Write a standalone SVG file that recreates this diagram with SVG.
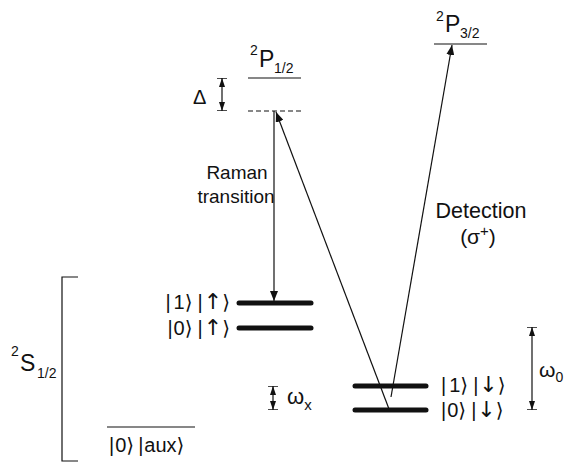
<svg xmlns="http://www.w3.org/2000/svg" width="564" height="465" viewBox="0 0 564 465">
<style>
text{font-family:"Liberation Sans",Arial,"DejaVu Sans",sans-serif;fill:#111}
.lbl{font-size:19px}
.ket{font-size:20px}
.arw{font-family:"DejaVu Sans",sans-serif;font-size:22px}
.big{font-size:23px}
.sm{font-size:14px}
.thin{stroke:#111;stroke-width:1.2;fill:none}
.thick{stroke:#111;stroke-width:5;stroke-linecap:round}
.ar{stroke:#111;stroke-width:1.2;fill:none}
</style>
<defs>
<marker id="ah" viewBox="0 0 10 8" refX="10" refY="4" markerWidth="10" markerHeight="8" markerUnits="userSpaceOnUse" orient="auto">
<path d="M0,0 L10,4 L0,8 Z" fill="#111"/>
</marker>
<marker id="ahb" viewBox="0 0 10 10" refX="10" refY="5" markerWidth="10" markerHeight="10" markerUnits="userSpaceOnUse" orient="auto-start-reverse">
<path d="M1,2 L10,5 L1,8 Z" fill="#111"/>
<path d="M10,0 L10,10" stroke="#111" stroke-width="1.5"/>
</marker>
</defs>

<g id="P12">
<line class="thin" x1="248" y1="78" x2="301" y2="78"/>
<text class="sm" x="250" y="55">2</text>
<text class="big" x="259" y="67">P</text>
<text class="sm" x="274" y="73">1/2</text>
</g>
<g id="virtual">
<line class="thin" x1="248" y1="111" x2="301" y2="111" stroke-dasharray="5,3"/>
</g>
<g id="P32">
<line class="thin" x1="434" y1="44" x2="487" y2="44"/>
<text class="sm" x="436" y="21">2</text>
<text class="big" x="445" y="32">P</text>
<text class="sm" x="460" y="38">3/2</text>
</g>
<g id="S12">
<path class="thin" d="M78,277 H62 V461 H78"/>
<text class="sm" x="11" y="356">2</text>
<text class="big" x="20" y="371">S</text>
<text class="sm" x="37" y="378">1/2</text>
</g>
<g id="up1">
<line class="thick" x1="239" y1="303" x2="311" y2="303"/>
<text class="ket" x="230" y="309" text-anchor="end">|<tspan dx="3">1⟩</tspan><tspan dx="5">|</tspan><tspan class="arw" dx="1">↑</tspan>⟩</text>
</g>
<g id="up0">
<line class="thick" x1="239" y1="328" x2="311" y2="328"/>
<text class="ket" x="230" y="335" text-anchor="end">|<tspan dx="1">0⟩</tspan><tspan dx="5">|</tspan><tspan class="arw" dx="1">↑</tspan>⟩</text>
</g>
<g id="down1">
<line class="thick" x1="355" y1="386" x2="426" y2="386"/>
<text class="ket" x="441" y="392">|<tspan dx="3">1⟩</tspan><tspan dx="5">|</tspan><tspan class="arw" dx="1">↓</tspan>⟩</text>
</g>
<g id="down0">
<line class="thick" x1="355" y1="410" x2="426" y2="410"/>
<text class="ket" x="441" y="417">|<tspan dx="1">0⟩</tspan><tspan dx="5">|</tspan><tspan class="arw" dx="1">↓</tspan>⟩</text>
</g>
<g id="aux">
<line class="thin" x1="107" y1="427" x2="195" y2="427"/>
<text class="ket" x="109" y="452">|<tspan dx="1">0⟩</tspan><tspan dx="4">|</tspan><tspan dx="1">aux⟩</tspan></text>
</g>

<g id="connectors">
<line class="ar" x1="274" y1="111" x2="274" y2="301" marker-end="url(#ah)"/>
<line class="ar" x1="389" y1="409" x2="276" y2="112" marker-end="url(#ah)"/>
<line class="ar" x1="391" y1="397" x2="452" y2="45" marker-end="url(#ah)"/>
<line class="ar" x1="222" y1="78" x2="222" y2="111" marker-start="url(#ahb)" marker-end="url(#ahb)"/>
<line class="ar" x1="273" y1="386" x2="273" y2="410" marker-start="url(#ahb)" marker-end="url(#ahb)"/>
<line class="ar" x1="532" y1="327" x2="532" y2="410" marker-start="url(#ahb)" marker-end="url(#ahb)"/>
</g>

<g id="labels">
<text class="lbl" x="193" y="104" style="font-size:20px">Δ</text>
<text class="lbl" x="237" y="179" text-anchor="middle">Raman</text>
<text class="lbl" x="236" y="203" text-anchor="middle">transition</text>
<text x="481" y="218" text-anchor="middle" style="font-size:21.5px">Detection</text>
<text x="478" y="244" text-anchor="middle" style="font-size:21px">(σ<tspan dy="-8" style="font-size:15px">+</tspan><tspan dy="8">)</tspan></text>
<text x="287" y="404" style="font-size:22px">ω<tspan dy="6" style="font-size:15px">x</tspan></text>
<text x="539" y="377" style="font-size:21px">ω<tspan dy="5" style="font-size:14px">0</tspan></text>
</g>
</svg>
